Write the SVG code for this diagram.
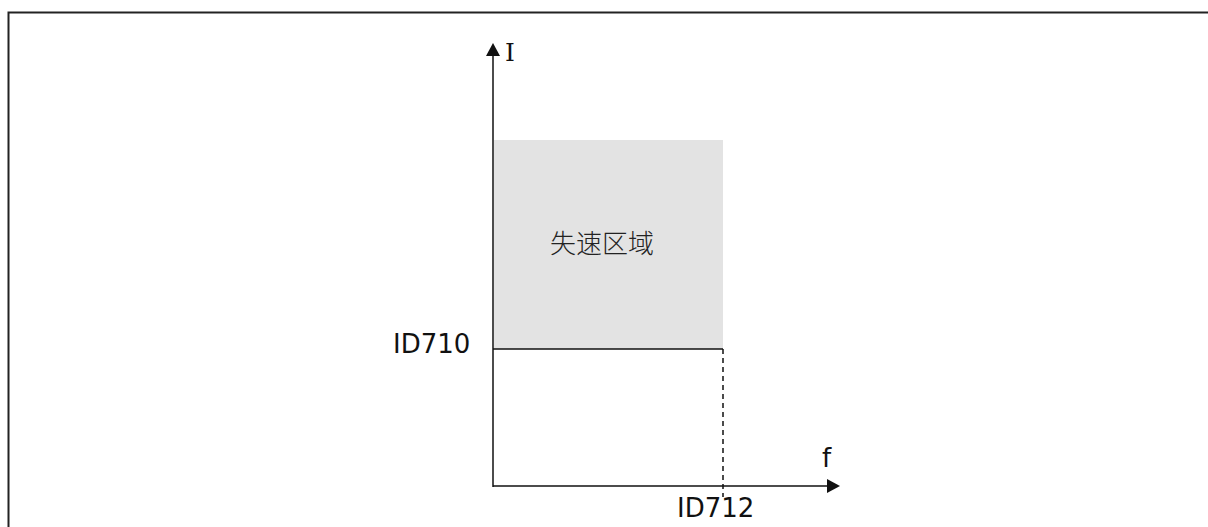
<svg xmlns="http://www.w3.org/2000/svg" width="1208" height="527" viewBox="0 0 1208 527">
<style>
.t{font-family:"DejaVu Sans","Liberation Sans",sans-serif;font-size:26px;fill:#111}
.cjk{font-family:"Noto Sans CJK SC","DejaVu Sans",sans-serif;font-size:26px;font-weight:300;fill:#222}
.ax{stroke:#111;stroke-width:1.5;fill:none}
</style>
<rect width="1208" height="527" fill="#fff"/>
<g id="frame"><path d="M8.5 540 V12.5 H1220" fill="none" stroke="#222" stroke-width="2"/></g>
<g id="stall-zone">
<rect x="494" y="140" width="229" height="209" fill="#e3e3e3"/>
<text class="cjk" x="550" y="253">失速区域</text>
</g>
<g id="connectors">
<line class="ax" x1="493" y1="54" x2="493" y2="487"/>
<polygon points="493,43 486,56 500,56" fill="#111"/>
<line class="ax" x1="493" y1="486" x2="829" y2="486"/>
<polygon points="840,486 827,479 827,493" fill="#111"/>
<line class="ax" x1="493" y1="349" x2="723" y2="349"/>
<line x1="723" y1="349" x2="723" y2="497" stroke="#111" stroke-width="1.5" stroke-dasharray="5,4"/>
</g>
<g id="labels">
<text x="505" y="61" style="font-family:'DejaVu Serif',serif;font-size:25px;fill:#111">I</text>
<text class="t" x="822" y="467">f</text>
<text class="t" x="393" y="353">ID710</text>
<text class="t" x="677" y="517">ID712</text>
</g>
</svg>
